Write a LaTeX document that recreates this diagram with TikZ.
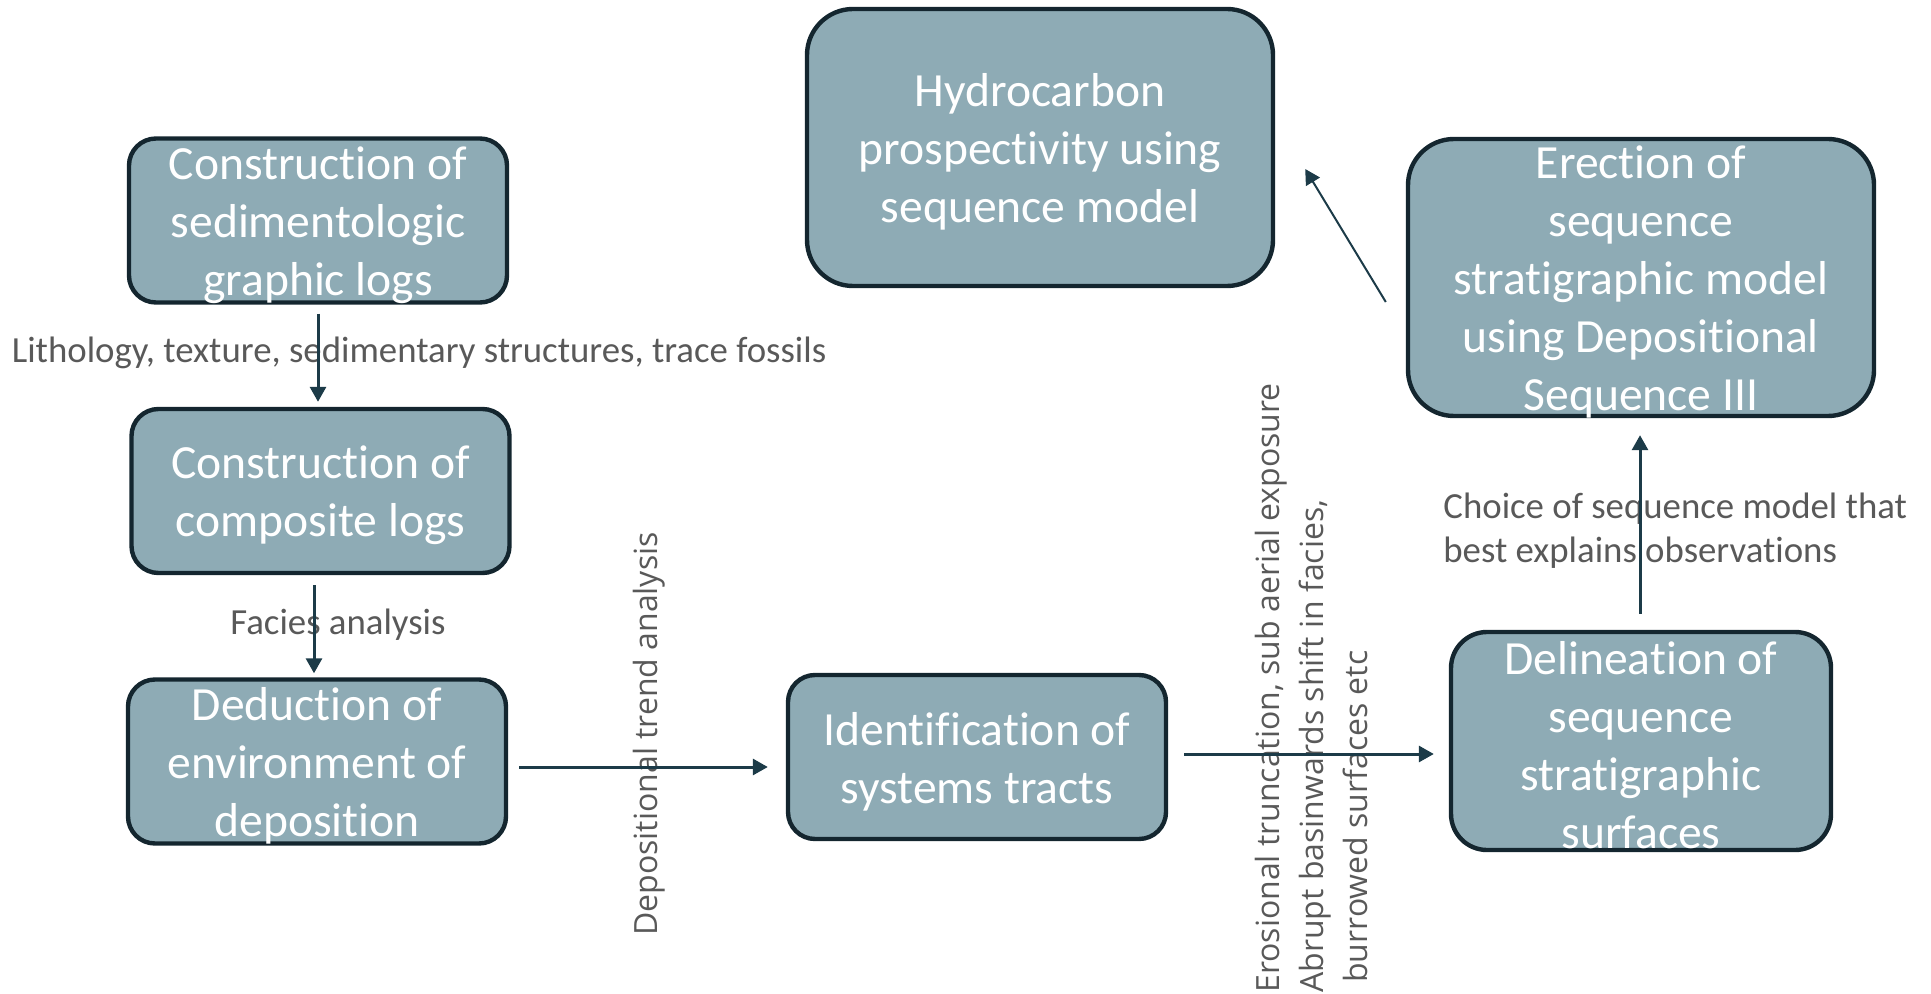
\documentclass[tikz,border=0pt]{standalone}
\usepackage{fontspec}
\setmainfont{Carlito}[Ligatures=NoCommon]
\newfontfamily\rotfont{Open Sans}
\usetikzlibrary{arrows.meta,calc}
\definecolor{boxfill}{HTML}{8EABB5}
\definecolor{boxline}{HTML}{14262F}
\definecolor{arrowc}{HTML}{1C3B48}
\definecolor{labelc}{HTML}{595959}
\newcommand{\boxtext}[2]{\raisebox{-8.5pt}[0pt][0pt]{\parbox[c][0pt][c]{#1}{\centering #2}}}

\begin{document}
\begin{tikzpicture}[x=0.5pt, y=-0.5pt,
		stage/.style={draw=boxline, line width=2.2pt, fill=boxfill, text=white, inner sep=0pt,
			font=\fontsize{23.8}{29}\selectfont},
		smallstage/.style={stage, minimum width=189pt, minimum height=82pt, rounded corners=13.5pt},
		bigstage/.style={stage, minimum width=233pt, minimum height=138.5pt, rounded corners=23pt},
		flat/.style={text=labelc, font=\fontsize{18.4}{22}\selectfont, inner sep=0pt},
		tilted/.style={text=labelc, font=\rotfont\fontsize{16}{22}\selectfont, inner sep=0pt, rotate=90},
		arr/.style={draw=arrowc, line width=1.5pt, -{Triangle[length=7.5pt,width=8pt]}},
		]
		\useasboundingbox (0,0) rectangle (1931,994);
		\node[smallstage] (sedlogs) at (318,220.5) {\boxtext{180pt}{Construction of\\ sedimentologic\\ graphic logs}};
		\node[smallstage] (complogs) at (320.5,491) {\boxtext{180pt}{Construction of\\ composite logs}};
		\node[smallstage] (environ) at (317,761.5) {\boxtext{180pt}{Deduction of\\ environment of\\ deposition}};
		\node[smallstage] (tracts) at (977,757) {\boxtext{180pt}{Identification of\\ systems tracts}};
		\node[stage, minimum width=190pt, minimum height=109pt, rounded corners=18pt] (surfaces) at (1641,741)
			{\boxtext{180pt}{Delineation of\\ sequence\\ stratigraphic\\ surfaces}};
		\node[bigstage] (seqmodel) at (1641,277.5) {\boxtext{225pt}{Erection of\\ sequence\\ stratigraphic model\\ using Depositional\\ Sequence III}};
		\node[bigstage] (prospect) at (1040,147.5) {\boxtext{225pt}{Hydrocarbon\\ prospectivity using\\ sequence model}};

		\node[flat] (litho) at (419,353) {Lithology, texture, sedimentary structures, trace fossils};
		\node[flat] (facies) at (338,625) {Facies analysis};
		\node[flat, anchor=west, align=left] (choice) at (1443,531) {Choice of sequence model that\\ best explains observations};
		\node[tilted] (trend) at (649,734) {Depositional trend analysis};
		\node[tilted, align=left] (erosion) at (1311,688) {Erosional truncation, sub aerial exposure\\ Abrupt basinwards shift in facies,\\ \hspace{5pt}burrowed surfaces etc};

		\draw[arr] ($(sedlogs.south)+(0,9)$) -- ($(complogs.north)+(-2.5,-5)$);
		\draw[arr] ($(complogs.south)+(-6.5,10)$) -- ($(environ.north)+(-3,-4)$);
		\draw[arr] ($(environ.east)+(11,5.5)$) -- ($(tracts.west)+(-18,10)$);
		\draw[arr] ($(tracts.east)+(16,-3)$) -- ($(surfaces.west)+(-15,13)$);
		\draw[arr] ($(surfaces.north)+(-1,-16)$) -- ($(seqmodel.south)+(-1,17)$);
		\draw[arr, line width=1pt] ($(seqmodel.west)+(-20,24.5)$) -- ($(prospect.east)+(30,21.5)$);
	\end{tikzpicture}
\end{document}
